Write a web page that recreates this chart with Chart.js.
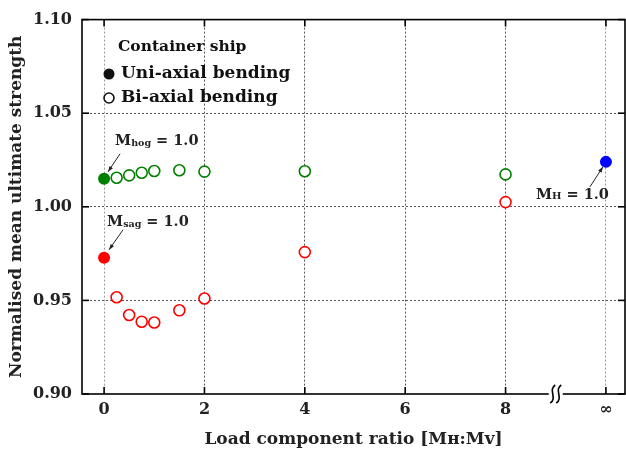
<!DOCTYPE html>
<html><head><meta charset="utf-8">
<script src="https://cdn.jsdelivr.net/npm/chart.js@4"></script>
<style>html,body{margin:0;padding:0;background:#fff}#wrap{width:626px;height:454px}</style>
</head><body><div id="wrap"><canvas id="c" width="626" height="454"></canvas></div>
<script>
// ---- data ----
const xTickValues = [0, 2, 4, 6, 8, 10];
const xTickLabels = ['0', '2', '4', '6', '8', '∞'];
const yTickValues = [0.90, 0.95, 1.00, 1.05, 1.10];
const breakAt = 9;

const biRatios = [0.25, 0.5, 0.75, 1, 1.5, 2, 4, 8];
const biHog = [1.0155, 1.0168, 1.0182, 1.0191, 1.0195, 1.0188, 1.0190, 1.0173];
const biSag = [0.9517, 0.9422, 0.9386, 0.9382, 0.9447, 0.9510, 0.9758, 1.0025];

const uniHog = [{x: 0, y: 1.0150}];
const uniSag = [{x: 0, y: 0.9728}];
const uniHoriz = [{x: 10, y: 1.0240}];

const legendTitle = 'Container ship';
const legendItems = ['Uni-axial bending', 'Bi-axial bending'];
const xTitle = 'Load component ratio [Mʜ:Mᴠ]';
const yTitle = 'Normalised mean ultimate strength';

const FONT = '"DejaVu Serif", serif';

const overlay = {
  id: 'overlay',
  afterDraw(chart) {
    const {ctx, chartArea: a, scales: {x, y}} = chart;
    ctx.save();
    const line = (x1, y1, x2, y2) => { ctx.beginPath(); ctx.moveTo(x1, y1); ctx.lineTo(x2, y2); ctx.stroke(); };
    ctx.strokeStyle = '#000';
    ctx.lineWidth = 1.6;
    ctx.strokeRect(a.left, a.top, a.right - a.left, a.bottom - a.top);
    const L = 7;
    xTickValues.forEach(v => { const p = x.getPixelForValue(v); line(p, a.bottom, p, a.bottom - L); line(p, a.top, p, a.top + L); });
    yTickValues.forEach(v => { const p = y.getPixelForValue(v); line(a.left, p, a.left + L, p); line(a.right, p, a.right - L, p); });

    // axis break
    const bx = x.getPixelForValue(breakAt), by = a.bottom;
    ctx.fillStyle = '#fff';
    ctx.fillRect(bx - 7, by - 2, 14, 4);
    ctx.lineWidth = 1.6;
    [-3, 3].forEach(dx => {
      ctx.beginPath();
      ctx.moveTo(bx + dx + 2.5, by - 9);
      ctx.bezierCurveTo(bx + dx - 5, by - 4, bx + dx + 5, by + 4, bx + dx - 2.5, by + 9);
      ctx.stroke();
    });

    // legend
    ctx.fillStyle = '#111';
    ctx.textBaseline = 'middle';
    ctx.textAlign = 'left';
    ctx.font = 'bold 15.5px ' + FONT;
    ctx.fillText(legendTitle, 118, 47);
    ctx.font = 'bold 17px ' + FONT;
    ctx.beginPath(); ctx.arc(109, 74, 5.5, 0, Math.PI * 2); ctx.fill();
    ctx.fillText(legendItems[0], 121, 74);
    ctx.lineWidth = 1.6;
    ctx.strokeStyle = '#111';
    ctx.beginPath(); ctx.arc(109, 98, 5, 0, Math.PI * 2); ctx.stroke();
    ctx.fillText(legendItems[1], 121, 98);

    // annotations
    const rich = (parts, x0, y0) => {
      let cx = x0;
      parts.forEach(([t, size, dy]) => {
        ctx.font = 'bold ' + size + 'px ' + FONT;
        ctx.textBaseline = 'alphabetic';
        ctx.fillText(t, cx, y0 + dy);
        cx += ctx.measureText(t).width;
      });
    };
    const arrow = (x1, y1, x2, y2) => {
      ctx.lineWidth = 1;
      line(x1, y1, x2, y2);
      const ang = Math.atan2(y2 - y1, x2 - x1), h = 6;
      ctx.beginPath();
      ctx.moveTo(x2, y2);
      ctx.lineTo(x2 - h * Math.cos(ang - 0.35), y2 - h * Math.sin(ang - 0.35));
      ctx.lineTo(x2 - h * Math.cos(ang + 0.35), y2 - h * Math.sin(ang + 0.35));
      ctx.closePath(); ctx.fill();
    };
    ctx.strokeStyle = '#222'; ctx.fillStyle = '#222';
    const hx = x.getPixelForValue(uniHog[0].x), hy = y.getPixelForValue(uniHog[0].y);
    rich([['M', 14.5, 0], ['hog', 9.5, 1.5], [' = 1.0', 14.5, 0]], hx + 11, hy - 34);
    arrow(hx + 16, hy - 25, hx + 4, hy - 7);
    const sx = x.getPixelForValue(uniSag[0].x), sy = y.getPixelForValue(uniSag[0].y);
    rich([['M', 14.5, 0], ['sag', 9.5, 1.5], [' = 1.0', 14.5, 0]], sx + 3, sy - 32);
    arrow(sx + 19, sy - 28, sx + 5, sy - 8);
    const zx = x.getPixelForValue(uniHoriz[0].x), zy = y.getPixelForValue(uniHoriz[0].y);
    rich([['M', 14.5, 0], ['H', 10, 0], [' = 1.0', 14.5, 0]], zx - 70, zy + 37);
    arrow(zx - 16, zy + 25, zx - 3, zy + 5);
    ctx.restore();
  }
};

const gridColor = ctx => {
  const v = ctx.tick && ctx.tick.value;
  if (ctx.scale.axis === 'y' && (Math.abs(v - 0.9) < 1e-6 || Math.abs(v - 1.1) < 1e-6)) return 'rgba(0,0,0,0)';
  if (ctx.scale.axis === 'x' && (v === 0 || v === 10)) return '#9a9a9a';
  return '#555';
};

new Chart(document.getElementById('c'), {
  type: 'scatter',
  data: {
    datasets: [
      {data: biRatios.map((r, i) => ({x: r, y: biHog[i]})), pointStyle: 'circle', pointRadius: 5.5, pointBorderWidth: 1.6, borderColor: '#008000', backgroundColor: '#fff'},
      {data: biRatios.map((r, i) => ({x: r, y: biSag[i]})), pointStyle: 'circle', pointRadius: 5.5, pointBorderWidth: 1.6, borderColor: '#ff0000', backgroundColor: '#fff'},
      {data: uniHog, pointRadius: 6, pointBorderWidth: 0, borderColor: '#008000', backgroundColor: '#008000'},
      {data: uniSag, pointRadius: 6, pointBorderWidth: 0, borderColor: '#ff0000', backgroundColor: '#ff0000'},
      {data: uniHoriz, pointRadius: 6, pointBorderWidth: 0, borderColor: '#0000ff', backgroundColor: '#0000ff'}
    ]
  },
  options: {
    responsive: false, animation: false, devicePixelRatio: 1,
    layout: {autoPadding: false, padding: {top: 17, right: 1, left: 0, bottom: 0}},
    plugins: {legend: {display: false}, tooltip: {enabled: false}},
    scales: {
      x: {
        type: 'linear', min: -0.44, max: 10.38,
        afterBuildTicks: s => { s.ticks = xTickValues.map(v => ({value: v})); },
        afterFit: s => { s.height = 60; },
        ticks: {callback: (v) => { const i = xTickValues.indexOf(v); return i >= 0 ? xTickLabels[i] : ''; }, color: '#222', font: {family: FONT, size: 16, weight: 'bold'}, padding: 6, maxRotation: 0, autoSkip: false},
        grid: {color: gridColor, drawTicks: false, lineWidth: 1},
        border: {display: false, dash: [2, 2]},
        title: {display: true, text: xTitle, color: '#222', font: {family: FONT, size: 17, weight: 'bold'}, padding: {top: 0, bottom: 4}}
      },
      y: {
        min: 0.9, max: 1.1,
        afterBuildTicks: s => { s.ticks = yTickValues.map(v => ({value: v})); },
        afterFit: s => { s.width = 82; },
        ticks: {callback: v => v.toFixed(2), color: '#222', font: {family: FONT, size: 16, weight: 'bold'}, padding: 10},
        grid: {color: gridColor, drawTicks: false, lineWidth: 1},
        border: {display: false, dash: [2, 2]},
        title: {display: true, text: yTitle, color: '#222', font: {family: FONT, size: 17, weight: 'bold'}, padding: {top: 6, bottom: 0}}
      }
    }
  },
  plugins: [overlay]
});
</script></body></html>
